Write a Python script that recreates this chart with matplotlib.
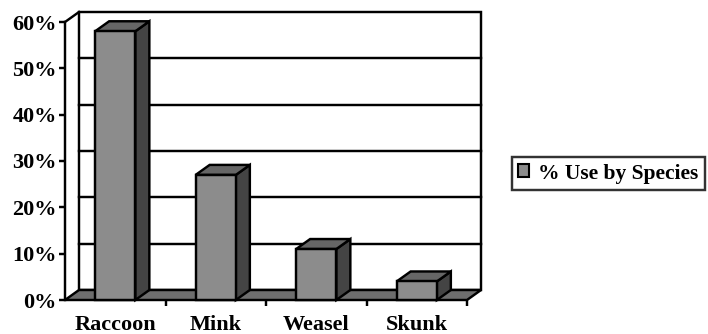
import matplotlib.pyplot as plt
from matplotlib.patches import Polygon, Rectangle

species = ['Raccoon', 'Mink', 'Weasel', 'Skunk']
use_pct = [58, 27, 11, 4]
yticks = [0, 10, 20, 30, 40, 50, 60]
series_name = '% Use by Species'

plt.rcParams['font.family'] = 'Liberation Serif'
plt.rcParams['font.weight'] = 'bold'

W, H = 708, 334
fig = plt.figure(figsize=(W / 100, H / 100), dpi=100)
# front plane of the plot area, in pixels
x0, x1, y0, y1 = 65, 467, 300, 22
ax = fig.add_axes([x0 / W, (H - y0) / H, (x1 - x0) / W, (y0 - y1) / H])
n = len(species)
ax.set_xlim(0, n)
ax.set_ylim(0, 60)

# depth offset of the back wall (14 px right, 10 px up)
dx = 14 / ((x1 - x0) / n)
dy = 10 / ((y0 - y1) / 60)

lw = 1.75
fs = 16
face = '#8c8c8c'
side = '#444444'
top = '#666666'
floor = '#6e6e6e'

for s in ax.spines.values():
    s.set_visible(False)

# back wall with gridlines
ax.add_patch(Rectangle((dx, dy), n, 60, facecolor='white', edgecolor='black',
                       lw=lw, clip_on=False, zorder=1))
for t in yticks[1:-1]:
    ax.plot([dx, n + dx], [t + dy, t + dy], color='black', lw=lw,
            clip_on=False, zorder=2)

# left side wall edges
ax.plot([0, 0], [0, 60], color='black', lw=lw, clip_on=False, zorder=2)
ax.plot([0, dx], [60, 60 + dy], color='black', lw=lw, clip_on=False, zorder=2)

# floor
ax.add_patch(Polygon([(0, 0), (n, 0), (n + dx, dy), (dx, dy)], closed=True,
                     facecolor=floor, edgecolor='black', lw=lw,
                     joinstyle='miter', clip_on=False, zorder=3))

# 3D columns
bw = 0.4
for i, v in enumerate(use_pct):
    a = i + 0.5 - bw / 2
    b = a + bw
    ax.add_patch(Polygon([(b, 0), (b + dx, dy), (b + dx, v + dy), (b, v)],
                         facecolor=side, edgecolor='black', lw=lw,
                         clip_on=False, zorder=4))
    ax.add_patch(Polygon([(a, v), (b, v), (b + dx, v + dy), (a + dx, v + dy)],
                         facecolor=top, edgecolor='black', lw=lw,
                         clip_on=False, zorder=4))
    ax.add_patch(Rectangle((a, 0), bw, v, facecolor=face, edgecolor='black',
                           lw=lw, clip_on=False, zorder=5))

# axes ticks and labels
ax.set_yticks(yticks)
ax.set_yticklabels([f'{t}%' for t in yticks])
ax.set_xticks(range(1, n + 1))
ax.set_xticklabels([])
ax.tick_params(axis='y', length=4, width=lw, pad=2, labelsize=fs)
ax.tick_params(axis='x', length=4, width=lw)
for i, name in enumerate(species):
    ax.text(i + 0.5, -3.2, name, ha='center', va='top', fontsize=fs,
            fontweight='bold', clip_on=False)

# legend
handle = Rectangle((0, 0), 1, 1, facecolor=face, edgecolor='black', lw=1.5)
leg = fig.legend([handle], [series_name], loc='center left',
                 bbox_to_anchor=(512 / W, 1 - 173.5 / H), frameon=True,
                 fancybox=False, edgecolor='black', fontsize=15.5,
                 handlelength=0.5, handleheight=0.55, handletextpad=0.4,
                 borderpad=0.3, borderaxespad=0)
leg.get_frame().set_linewidth(lw)

fig.savefig('out.png', dpi=100)
